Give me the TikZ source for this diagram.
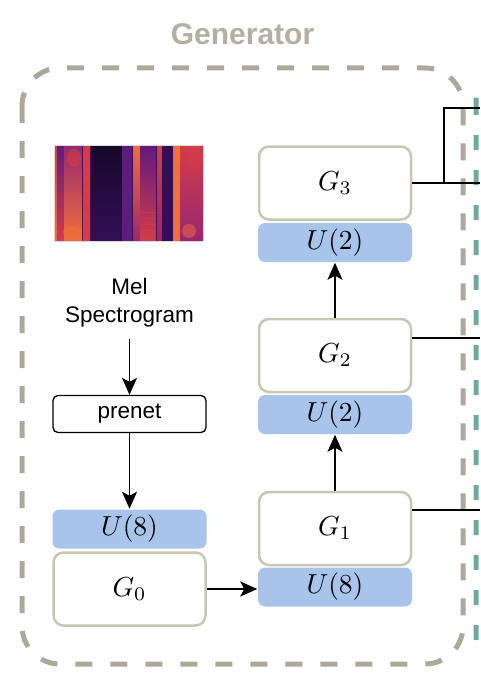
\documentclass[tikz,border=0pt]{standalone}
\usepackage{fontspec}
\newfontfamily\helv{Liberation Sans}
\usetikzlibrary{arrows.meta,positioning}

\definecolor{genline}{RGB}{173,168,153}
\definecolor{gentext}{RGB}{180,175,160}
\definecolor{gborder}{RGB}{203,197,181}
\definecolor{upblue}{RGB}{169,196,234}
\definecolor{discteal}{RGB}{112,170,158}
\definecolor{sdark}{RGB}{22,8,42}
\definecolor{sdeep}{RGB}{52,14,88}
\definecolor{spurple}{RGB}{96,28,124}
\definecolor{smag}{RGB}{150,40,112}
\definecolor{sred}{RGB}{212,60,72}
\definecolor{sorange}{RGB}{242,110,60}

\newcommand{\mlab}[1]{\scalebox{2.75}{$#1$}}

\begin{document}
\begin{tikzpicture}[x=1pt,y=-1pt,line width=1.5pt]

        \useasboundingbox (0,0) rectangle (480,682);
        \clip (0,0) rectangle (480,682);

        \node[text=gentext,anchor=base,font=\helv\bfseries\fontsize{30}{36}\selectfont] (title) at (242.5,45) {Generator};

        \draw[genline,line width=5pt,dash pattern=on 17pt off 18pt,rounded corners=38pt] (22,68) rectangle (463,664);
        \draw[discteal,line width=5pt,dash pattern=on 15pt off 20pt,rounded corners=30pt] (476,70) rectangle (640,668);

        % mel spectrogram picture
        \fill[sdeep] (54,145) rectangle (203,241);
        \foreach \a/\b/\t/\m/\u in {54/57/sred/smag/sorange, 57/64/spurple/smag/sred,
            64/82/smag/spurple/sorange, 83/90/sred/sorange/sred, 91/122/sdark/sdark/sdeep,
            122/132/spurple/sdeep/spurple, 133/140/sorange/sred/smag, 140/156/spurple/smag/sred,
            157/162/sred/sred/smag, 162/172/sdeep/sdark/sdeep, 173/180/sorange/sred/sorange,
            180/203/sred/spurple/smag}
          \shade[top color=\t,middle color=\m,bottom color=\u] (\a,145) rectangle (\b,241);
        \fill[sorange,opacity=.6] (72,232) ellipse (9 and 6);
        \fill[sorange,opacity=.5] (189,231) ellipse (7 and 7);
        \fill[sred,opacity=.6] (74,158) ellipse (7 and 9);
        \fill[sred,opacity=.5] (194,160) ellipse (7 and 12);
        \foreach \y in {212,218,...,238}
          \draw[sred,opacity=.6,line width=1pt] (141,\y) -- (156,\y);
        \draw[black!15,line width=.6pt] (54,145) rectangle (203,241);

        \node[font=\helv\fontsize{22.5}{28}\selectfont,align=center,inner xsep=0pt,inner ysep=11pt] (mel) at (129.5,302.5) {Mel\\Spectrogram};
        \node[draw,line width=1.3pt,rounded corners=5pt,minimum width=153pt,minimum height=37pt,inner sep=0pt,font=\helv\fontsize{22.5}{26}\selectfont] (pre) at (129.5,414) {prenet};

        \begin{scope}[every node/.style={fill=upblue,rounded corners=7pt,minimum width=154pt,minimum height=39pt,inner sep=0pt}]
          \node (u0) at (129.5,529)  {\mlab{U(8)}};
          \node (u1) at (335,587)  {\mlab{U(8)}};
          \node (u2) at (335,414.5)  {\mlab{U(2)}};
          \node (u3) at (335,242.5)  {\mlab{U(2)}};
        \end{scope}

        \begin{scope}[every node/.style={draw=gborder,fill=white,line width=2.5pt,rounded corners=10pt,minimum width=152pt,minimum height=73pt,inner sep=0pt}]
          \node (g0) at (129.5,589)  {\mlab{G_0}};
          \node (g1) at (335,528.5)  {\mlab{G_1}};
          \node (g2) at (335,355.5)  {\mlab{G_2}};
          \node (g3) at (335,183)  {\mlab{G_3}};
        \end{scope}

        \begin{scope}[every edge/.style={draw,line width=1.5pt,-{Stealth[length=17pt,width=15pt,inset=4pt]}}]
          \path (mel) edge (pre);
          \path (pre) edge (u0);
          \path (g0.east) edge (g0.east -| u1.west);
          \path (g1) edge (u2);
          \path (g2) edge (u3);
        \end{scope}

        % outputs leaving on the right
        \coordinate (o3) at (480,183);
        \coordinate (o2) at (480,338);
        \coordinate (o1) at (480,510);
        \coordinate (top) at (480,108);
        \coordinate (j3) at (444,183);
        \draw (g3.east) -- (o3);
        \draw (j3) |- (top);
        \draw (o2 -| g2.east) -- (o2);
        \draw (o1 -| g1.east) -- (o1);

      \end{tikzpicture}
\end{document}
